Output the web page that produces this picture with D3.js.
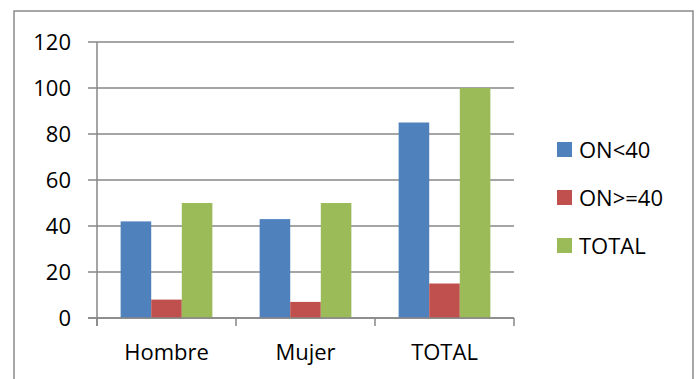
<!DOCTYPE html>
<html lang="es">
  <head>
    <meta charset="utf-8" />
    <title>ON por sexo</title>
    <script src="https://cdnjs.cloudflare.com/ajax/libs/d3/7.0.0/d3.min.js"></script>
    <style>
      body {
        margin: 0;
        background: #fff;
      }
      text {
        font-family: "Open Sans", sans-serif;
        font-size: 22px;
        fill: #000;
      }
      .grid line {
        stroke: #878787;
        stroke-width: 1.5px;
      }
    </style>
  </head>
  <body>
    <div id="chart"></div>
    <script>
      // data
      const categories = ["Hombre", "Mujer", "TOTAL"];
      const seriesNames = ["ON<40", "ON>=40", "TOTAL"];
      const onMenor40 = [42, 43, 85];
      const onMayor40 = [8, 7, 15];
      const total = [50, 50, 100];
      const yTicks = [0, 20, 40, 60, 80, 100, 120];
      const colors = ["#4F81BD", "#C0504D", "#9BBB59"];

      const values = [onMenor40, onMayor40, total];
      const width = 699;
      const height = 379;
      const plot = { left: 97, right: 514, top: 42, bottom: 318 };

      const svg = d3
        .select("#chart")
        .append("svg")
        .attr("width", width)
        .attr("height", height);

      // outer frame
      svg
        .append("rect")
        .attr("x", 14)
        .attr("y", 11)
        .attr("width", 679)
        .attr("height", 380)
        .attr("fill", "none")
        .attr("stroke", "#8a8a8a")
        .attr("stroke-width", 1.5);

      const x = d3
        .scaleBand()
        .domain(categories)
        .range([plot.left, plot.right])
        .paddingInner(0.34)
        .paddingOuter(0.17);

      const xs = d3
        .scaleBand()
        .domain(seriesNames)
        .range([0, x.bandwidth()]);

      const y = d3.scaleLinear().domain([0, 120]).range([plot.bottom, plot.top]);

      // horizontal gridlines + y ticks
      const grid = svg.append("g").attr("class", "grid");
      grid
        .selectAll("line")
        .data(yTicks)
        .enter()
        .append("line")
        .attr("x1", plot.left - 9)
        .attr("x2", plot.right)
        .attr("y1", (d) => y(d))
        .attr("y2", (d) => y(d));

      svg
        .append("g")
        .selectAll("text")
        .data(yTicks)
        .enter()
        .append("text")
        .attr("x", 71)
        .attr("y", (d) => y(d))
        .attr("dy", "0.36em")
        .attr("text-anchor", "end")
        .text((d) => d);

      // bars
      const groups = svg
        .append("g")
        .selectAll("g")
        .data(categories)
        .enter()
        .append("g")
        .attr("transform", (d) => `translate(${x(d)},0)`);

      groups
        .selectAll("rect")
        .data((d, i) => seriesNames.map((s, j) => ({ s, v: values[j][i], c: colors[j] })))
        .enter()
        .append("rect")
        .attr("x", (d) => xs(d.s))
        .attr("width", xs.bandwidth())
        .attr("y", (d) => y(d.v))
        .attr("height", (d) => y(0) - y(d.v))
        .attr("fill", (d) => d.c);

      // axes lines
      const axisG = svg.append("g").attr("class", "grid");
      axisG
        .append("line")
        .attr("x1", plot.left)
        .attr("x2", plot.left)
        .attr("y1", plot.top)
        .attr("y2", plot.bottom + 8);
      axisG
        .append("line")
        .attr("x1", plot.left - 9)
        .attr("x2", plot.right)
        .attr("y1", plot.bottom)
        .attr("y2", plot.bottom);

      const step = (plot.right - plot.left) / categories.length;
      axisG
        .selectAll(".ct")
        .data(d3.range(categories.length + 1))
        .enter()
        .append("line")
        .attr("x1", (d) => plot.left + d * step)
        .attr("x2", (d) => plot.left + d * step)
        .attr("y1", plot.bottom)
        .attr("y2", plot.bottom + 8);

      svg
        .append("g")
        .selectAll("text")
        .data(categories)
        .enter()
        .append("text")
        .attr("x", (d) => x(d) + x.bandwidth() / 2)
        .attr("y", 360)
        .attr("text-anchor", "middle")
        .text((d) => d);

      // legend
      const legend = svg
        .append("g")
        .selectAll("g")
        .data(seriesNames)
        .enter()
        .append("g")
        .attr("transform", (d, i) => `translate(557,${150 + i * 48})`);

      legend
        .append("rect")
        .attr("x", 0)
        .attr("y", -8)
        .attr("width", 15)
        .attr("height", 15)
        .attr("fill", (d, i) => colors[i]);

      legend
        .append("text")
        .attr("x", 22)
        .attr("y", 0)
        .attr("dy", "0.36em")
        .text((d) => d);
    </script>
  </body>
</html>
